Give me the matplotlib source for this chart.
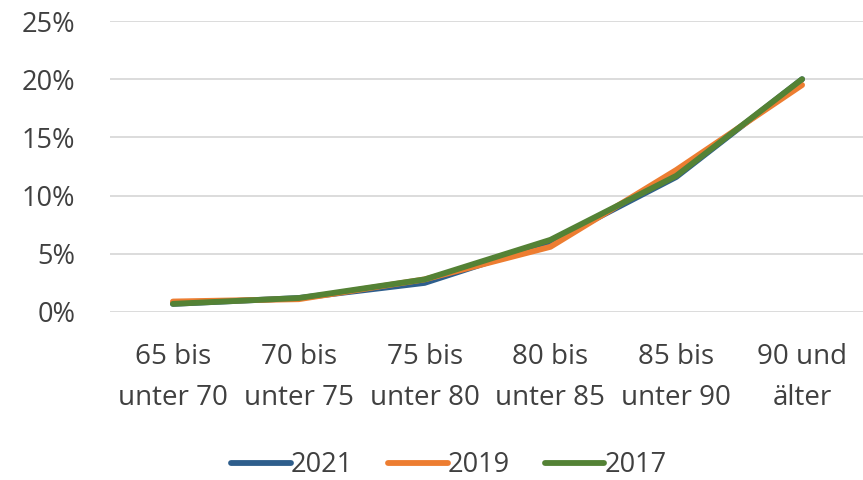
import matplotlib
matplotlib.use("Agg")
import matplotlib.pyplot as plt
from matplotlib.ticker import PercentFormatter

categories = ["65 bis\nunter 70", "70 bis\nunter 75", "75 bis\nunter 80",
              "80 bis\nunter 85", "85 bis\nunter 90", "90 und\nälter"]
s2021 = [0.7, 1.2, 2.5, 6.0, 11.6, 20.0]
s2019 = [0.9, 1.1, 2.8, 5.6, 12.2, 19.5]
s2017 = [0.7, 1.2, 2.8, 6.2, 11.7, 20.0]
series = [("2021", s2021, "#2E5E8C"), ("2019", s2019, "#ED7D31"), ("2017", s2017, "#548235")]

plt.rcParams['font.family'] = ['Open Sans', 'DejaVu Sans']
fig = plt.figure(figsize=(8.63, 4.8), dpi=100)
ax = fig.add_axes([110/863, 1-312/480, 755/863, 291/480])

x = list(range(len(categories)))
for name, vals, col in series:
    ax.plot(x, vals, color=col, lw=4.2, solid_capstyle='round', solid_joinstyle='round', label=name)

ax.set_xlim(-0.5, len(categories) - 0.5)
ax.set_ylim(0, 25)
ax.set_yticks([0, 5, 10, 15, 20, 25])
ax.yaxis.set_major_formatter(PercentFormatter(decimals=0))
ax.set_xticks(x)
ax.set_xticklabels(categories)
ax.grid(axis='y', color='#D9D9D9', lw=1.3)
ax.set_axisbelow(True)
for sp in ax.spines.values():
    sp.set_visible(False)
ax.tick_params(axis='y', length=0, labelsize=19.5, colors='#404040', pad=25)
ax.tick_params(axis='x', length=0, labelsize=20, colors='#404040', pad=22)
for lbl in ax.get_xticklabels():
    lbl.set_linespacing(1.62)

leg = fig.legend(loc='center', bbox_to_anchor=(0.52, 1-465/480), ncol=3, frameon=False,
                 fontsize=19.5, handlelength=2.2, handletextpad=0.0, columnspacing=1.3)
for t in leg.get_texts():
    t.set_color('#404040')

fig.savefig("out.png", dpi=100)
